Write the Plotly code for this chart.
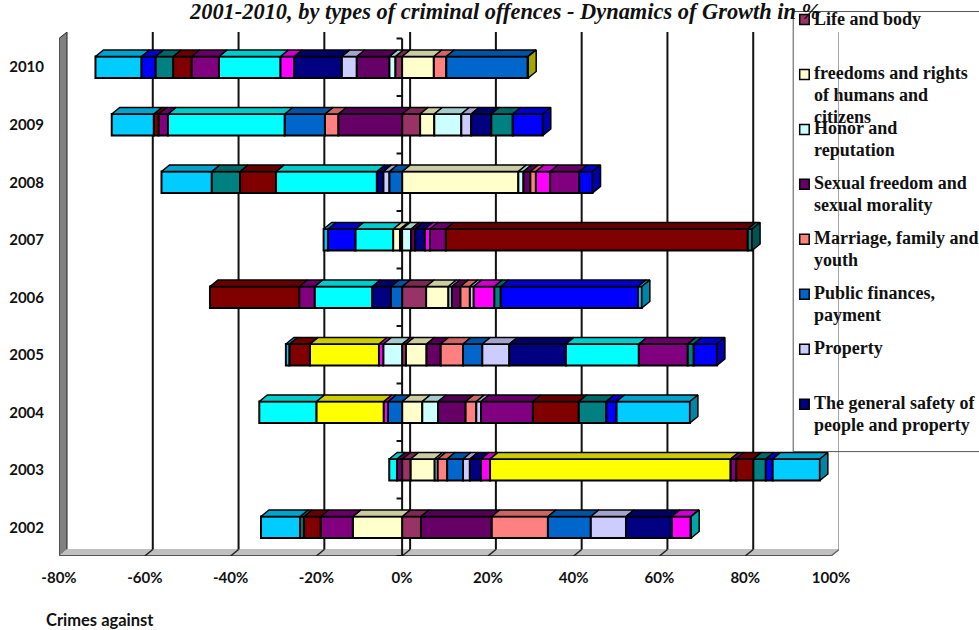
import plotly.graph_objects as go

# Years of the vertical axis, bottom to top
years = ["2002", "2003", "2004", "2005", "2006", "2007", "2008", "2009", "2010"]
x_ticks = [-80, -60, -40, -20, 0, 20, 40, 60, 80, 100]

# Growth in % by offence group, one value per year (None = no segment)
life_body = [4.4, 2.0, None, 0.9, 5.6, -0.5, None, 4.2, -1.6]
freedoms = [-11.5, 5.6, 4.7, 4.8, 5.2, -1.6, 27.1, 3.3, 7.4]
honor = [None, 0.7, 3.7, -4.4, 0.8, 2.1, 1.2, 6.3, -1.4]
sexual = [16.5, -1.2, 6.4, 3.3, 2.0, 0.9, 1.6, -14.9, -7.6]
marriage = [13.1, 2.2, 2.5, 5.2, 2.2, None, 1.3, -3.1, 2.9]
public_fin = [10.0, 3.7, -3.3, 4.5, -2.6, None, -3.0, -9.4, 19.0]
property_ = [8.2, 1.6, 1.1, 6.3, 0.9, None, -1.4, 2.3, -3.5]
safety = [10.7, 2.6, None, 13.2, -4.4, 2.3, -1.5, 4.7, -11.1]
group_9 = [4.4, 2.1, -1.0, -1.0, 4.8, 1.2, 3.3, None, -3.2]
group_10 = [None, 56.1, -15.7, -16.1, None, None, None, None, 0.1]
group_11 = [0.1, -1.8, -13.3, 17.0, -13.4, -8.8, -23.5, -27.2, -14.3]
group_12 = [-7.5, 1.3, 12.1, 11.4, -3.6, 3.7, 6.8, -2.2, -6.4]
group_13 = [-3.9, 4.0, 10.7, -4.8, -20.8, 70.4, -8.4, -1.1, -4.3]
group_14 = [-0.9, 2.9, 6.4, 1.4, 1.5, 1.0, -6.6, 5.0, -4.1]
group_15 = [None, 1.6, 2.4, 5.4, 32.0, -6.4, 3.1, 7.0, -3.3]
group_16 = [-9.1, 11.0, 17.1, -0.8, 0.9, -1.0, -11.7, -9.8, -10.7]

series = [
    ("Life and body", life_body, "#993366"),
    ("freedoms and rights of humans and citizens", freedoms, "#FFFFCC"),
    ("Honor and reputation", honor, "#CCFFFF"),
    ("Sexual freedom and sexual morality", sexual, "#660066"),
    ("Marriage, family and youth", marriage, "#FF8080"),
    ("Public finances, payment", public_fin, "#0066CC"),
    ("Property", property_, "#CCCCFF"),
    ("The general safety of people and property", safety, "#000080"),
    ("Group 9", group_9, "#FF00FF"),
    ("Group 10", group_10, "#FFFF00"),
    ("Group 11", group_11, "#00FFFF"),
    ("Group 12", group_12, "#800080"),
    ("Group 13", group_13, "#800000"),
    ("Group 14", group_14, "#008080"),
    ("Group 15", group_15, "#0000FF"),
    ("Group 16", group_16, "#00CCFF"),
]

# Wrapped legend text, first eight groups only
legend_lines = [
    ["Life and body"],
    ["freedoms and rights", "of humans and", "citizens"],
    ["Honor and", "reputation"],
    ["Sexual freedom and", "sexual morality"],
    ["Marriage, family and", "youth"],
    ["Public finances,", "payment"],
    ["Property"],
    ["The general safety of", "people and property"],
]

TITLE = "2001-2010, by types of criminal offences - Dynamics of Growth in %"

# Plot frame, in pixels
W, H = 979, 630
LEFT, RIGHT_FRONT = 58.8, 830.8
TOP_FRONT, BOTTOM = 38, 556
DEPTH_X_PX, DEPTH_Y_PX = 8.0, 6.5

x_unit = (RIGHT_FRONT - LEFT) / 180
y_unit = (BOTTOM - TOP_FRONT) / len(years)
dx = DEPTH_X_PX / x_unit
dy = DEPTH_Y_PX / y_unit
BAR_W = 21.5 / y_unit

plot_right = RIGHT_FRONT + DEPTH_X_PX
plot_top = TOP_FRONT - DEPTH_Y_PX
y_lo, y_hi = -0.5, len(years) - 0.5


def paper_x(px):
    return (px - LEFT) / (plot_right - LEFT)


def paper_y(px):
    return 1 - (px - plot_top) / (BOTTOM - plot_top)


def shade(hex_color, factor):
    r, g, b = (int(hex_color[i:i + 2], 16) for i in (1, 3, 5))
    return f"rgb({r * factor:.0f},{g * factor:.0f},{b * factor:.0f})"


fig = go.Figure()

# Front faces of the stacked bars
for name, values, color in series:
    fig.add_trace(go.Bar(
        y=list(range(len(years))), x=values, orientation="h", name=name,
        width=BAR_W, showlegend=False, hoverinfo="x+name",
        marker=dict(color=color, line=dict(color="black", width=2)),
    ))

# Top faces follow the running totals of each stack; the outermost positive
# segment of a year also gets a side cap
neg_total = [0.0] * len(years)
pos_total = [0.0] * len(years)
end_series = [None] * len(years)
end_value = [0.0] * len(years)
top_polys = []
for name, values, color in series:
    xs, ys = [], []
    for i, v in enumerate(values):
        if v is None:
            continue
        if v < 0:
            x0, x1 = neg_total[i] + v, neg_total[i]
            neg_total[i] += v
        else:
            x0, x1 = pos_total[i], pos_total[i] + v
            pos_total[i] += v
            end_series[i] = color
            end_value[i] = pos_total[i]
        yt = i + BAR_W / 2
        xs += [x0, x1, x1 + dx, x0 + dx, x0, None]
        ys += [yt, yt, yt + dy, yt + dy, yt, None]
    top_polys.append((name, xs, ys, color))

for name, xs, ys, color in top_polys:
    fig.add_trace(go.Scatter(
        x=xs, y=ys, mode="lines", fill="toself", fillcolor=shade(color, 0.8),
        line=dict(color="black", width=1.5), showlegend=False, hoverinfo="skip",
    ))

for i, color in enumerate(end_series):
    x_end = end_value[i]
    y0, y1 = i - BAR_W / 2, i + BAR_W / 2
    fig.add_trace(go.Scatter(
        x=[x_end, x_end + dx, x_end + dx, x_end, x_end],
        y=[y0, y0 + dy, y1 + dy, y1, y0],
        mode="lines", fill="toself", fillcolor=shade(color, 0.65),
        line=dict(color="black", width=1.5), showlegend=False, hoverinfo="skip",
    ))

shapes = []

# Left wall and floor of the 3-D frame
x_lo, x_hi = x_ticks[0], x_ticks[-1]
shapes.append(dict(
    type="path", layer="below", xref="x", yref="y",
    path=f"M{x_lo},{y_lo} L{x_lo},{y_hi} L{x_lo + dx},{y_hi + dy} L{x_lo + dx},{y_lo + dy} Z",
    fillcolor="#808080", line=dict(color="#222222", width=1),
))
shapes.append(dict(
    type="path", layer="below", xref="x", yref="y",
    path=f"M{x_lo},{y_lo} L{x_lo + dx},{y_lo + dy} L{x_hi + dx},{y_lo + dy} L{x_hi},{y_lo} Z",
    fillcolor="#C0C0C0", line=dict(color="#C0C0C0", width=1),
))
shapes.append(dict(
    type="line", layer="below", xref="x", yref="y",
    x0=x_lo, x1=x_hi, y0=y_lo, y1=y_lo, line=dict(color="#555555", width=2),
))

# Gridlines on the back wall, running down and across the floor to the front edge
for v in x_ticks[1:-1]:
    shapes.append(dict(
        type="line", layer="below", xref="x", yref="y",
        x0=v + dx, x1=v + dx, y0=y_lo + dy, y1=y_hi + dy,
        line=dict(color="#111111", width=2),
    ))
    shapes.append(dict(
        type="line", layer="below", xref="x", yref="y",
        x0=v, x1=v + dx, y0=y_lo, y1=y_lo + dy,
        line=dict(color="#222222", width=1.5),
    ))
shapes.append(dict(
    type="line", layer="below", xref="x", yref="y",
    x0=x_hi + dx, x1=x_hi + dx, y0=y_lo + dy, y1=y_hi + dy,
    line=dict(color="#8A8A8A", width=1.5),
))
shapes.append(dict(
    type="line", layer="below", xref="x", yref="y",
    x0=x_hi, x1=x_hi + dx, y0=y_lo, y1=y_lo + dy,
    line=dict(color="#666666", width=1.5),
))

# Category axis standing at zero, with its tick marks
shapes.append(dict(
    type="line", layer="below", xref="x", yref="y",
    x0=0, x1=0, y0=y_lo, y1=y_hi, line=dict(color="#111111", width=2),
))
for k in range(len(years) + 1):
    shapes.append(dict(
        type="line", layer="below", xref="x", yref="y",
        x0=-1.3, x1=0, y0=y_lo + k, y1=y_lo + k, line=dict(color="#111111", width=2),
    ))

# Legend frame, open to the page edge
shapes.append(dict(
    type="path", xref="paper", yref="paper",
    path=(f"M{paper_x(985)},{paper_y(11)} L{paper_x(793)},{paper_y(11)} "
          f"L{paper_x(793)},{paper_y(451.5)} L{paper_x(985)},{paper_y(451.5)}"),
    line=dict(color="#555555", width=1),
))

annotations = []
LEGEND_FONT = dict(family="Liberation Serif", size=18, color="#111111")
for i, lines in enumerate(legend_lines):
    cy = 19 + 55 * i
    shapes.append(dict(
        type="rect", xref="paper", yref="paper",
        x0=paper_x(799.5), x1=paper_x(809), y0=paper_y(cy - 5), y1=paper_y(cy + 5),
        fillcolor=series[i][2], line=dict(color="black", width=1.5),
    ))
    for j, text in enumerate(lines):
        annotations.append(dict(
            xref="paper", yref="paper", x=paper_x(812), y=paper_y(cy - 1 + 21.7 * j),
            text=f"<b>{text}</b>", showarrow=False, xanchor="left", yanchor="middle",
            font=LEGEND_FONT,
        ))

annotations.append(dict(
    xref="paper", yref="paper", x=paper_x(43.5), y=paper_y(620.5),
    text="<b>Crimes against</b>", showarrow=False, xanchor="left", yanchor="middle",
    font=dict(family="Lato", size=16.5, color="#111111"),
))
annotations.append(dict(
    xref="paper", yref="paper", x=paper_x(186.5), y=paper_y(11),
    text=f"<b><i>{TITLE}</i></b>", showarrow=False, xanchor="left", yanchor="middle",
    font=dict(family="Liberation Serif", size=22.4, color="#111111"),
))

fig.update_layout(
    width=W, height=H,
    margin=dict(l=LEFT, r=W - plot_right, t=plot_top, b=H - BOTTOM, pad=0, autoexpand=False),
    barmode="relative",
    plot_bgcolor="white", paper_bgcolor="white",
    showlegend=False,
    shapes=shapes, annotations=annotations,
    xaxis=dict(
        range=[x_lo, x_hi + dx], tickvals=x_ticks,
        ticktext=[f"{v}%" for v in x_ticks], showgrid=False, zeroline=False,
        showline=False, ticks="outside", ticklen=8, tickcolor="rgba(0,0,0,0)",
        tickfont=dict(family="Lato", size=15, color="#111111", weight="bold"),
    ),
    yaxis=dict(
        range=[y_lo, y_hi + dy], tickvals=list(range(len(years))), ticktext=years,
        showgrid=False, zeroline=False, showline=False,
        ticks="outside", ticklen=11, tickcolor="rgba(0,0,0,0)",
        tickfont=dict(family="Lato", size=15, color="#111111", weight="bold"),
    ),
)

fig.write_html("out.html")
